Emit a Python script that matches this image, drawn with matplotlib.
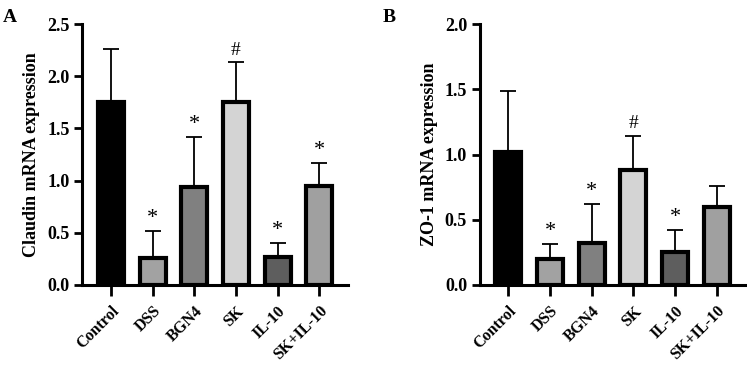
import matplotlib
matplotlib.use("Agg")
import matplotlib.pyplot as plt
import numpy as np

plt.rcParams['font.family'] = ['Liberation Serif', 'DejaVu Serif']

groups = ["Control", "DSS", "BGN4", "SK", "IL-10", "SK+IL-10"]
colors = ["#000000", "#a2a2a2", "#808080", "#d4d4d4", "#5e5e5e", "#a0a0a0"]

claudin_mean = [1.75, 0.26, 0.94, 1.75, 0.27, 0.95]
claudin_err = [0.51, 0.26, 0.48, 0.39, 0.13, 0.22]
claudin_marks = ["", "*", "*", "#", "*", "*"]

zo1_mean = [1.02, 0.195, 0.32, 0.88, 0.255, 0.60]
zo1_err = [0.47, 0.12, 0.30, 0.265, 0.165, 0.155]
zo1_marks = ["", "*", "*", "#", "*", ""]

fig = plt.figure(figsize=(7.47, 3.71), dpi=100)
axA = fig.add_axes([0.110, 0.232, 0.356, 0.703])
axB = fig.add_axes([0.642, 0.232, 0.356, 0.703])


def panel(ax, means, errs, marks, ylim, yticks, ylabel):
    x = np.arange(len(groups))
    ax.errorbar(x, means, yerr=[np.zeros(len(errs)), errs], fmt='none',
                ecolor='black', elinewidth=1.3, capsize=6, capthick=1.3, zorder=1)
    ax.bar(x, means, width=0.62, color=colors, edgecolor='black', linewidth=3.0, zorder=2)
    for xi, m, e, s in zip(x, means, errs, marks):
        if s:
            ax.text(xi, m + e + ylim * 0.012, s, ha='center', va='bottom',
                    fontsize=16 if s == "*" else 14, fontweight='normal')
    ax.set_xlim(-0.69, 5.69)
    ax.set_ylim(0, ylim)
    ax.set_yticks(yticks)
    ax.set_yticklabels([f"{t:.1f}" for t in yticks], fontsize=13, fontweight='bold')
    ax.set_xticks(x)
    ax.set_xticklabels(groups, rotation=45, ha='right', rotation_mode='anchor',
                       fontsize=11.5, fontweight='bold')
    ax.set_ylabel(ylabel, fontsize=13, fontweight='bold', labelpad=5)
    for sp in ['top', 'right']:
        ax.spines[sp].set_visible(False)
    for sp in ['left', 'bottom']:
        ax.spines[sp].set_linewidth(2.2)
    ax.tick_params(axis='y', width=2.0, length=6, direction='out', pad=3)
    ax.tick_params(axis='x', width=2.0, length=8, direction='out', pad=5)


panel(axA, claudin_mean, claudin_err, claudin_marks, 2.5,
      [0.0, 0.5, 1.0, 1.5, 2.0, 2.5], "Claudin mRNA expression")
panel(axB, zo1_mean, zo1_err, zo1_marks, 2.0,
      [0.0, 0.5, 1.0, 1.5, 2.0], "ZO-1 mRNA expression")

fig.text(0.004, 0.975, "A", fontsize=14, fontweight='bold', va='top', ha='left')
fig.text(0.512, 0.975, "B", fontsize=14, fontweight='bold', va='top', ha='left')

fig.savefig("out.png", dpi=100)
